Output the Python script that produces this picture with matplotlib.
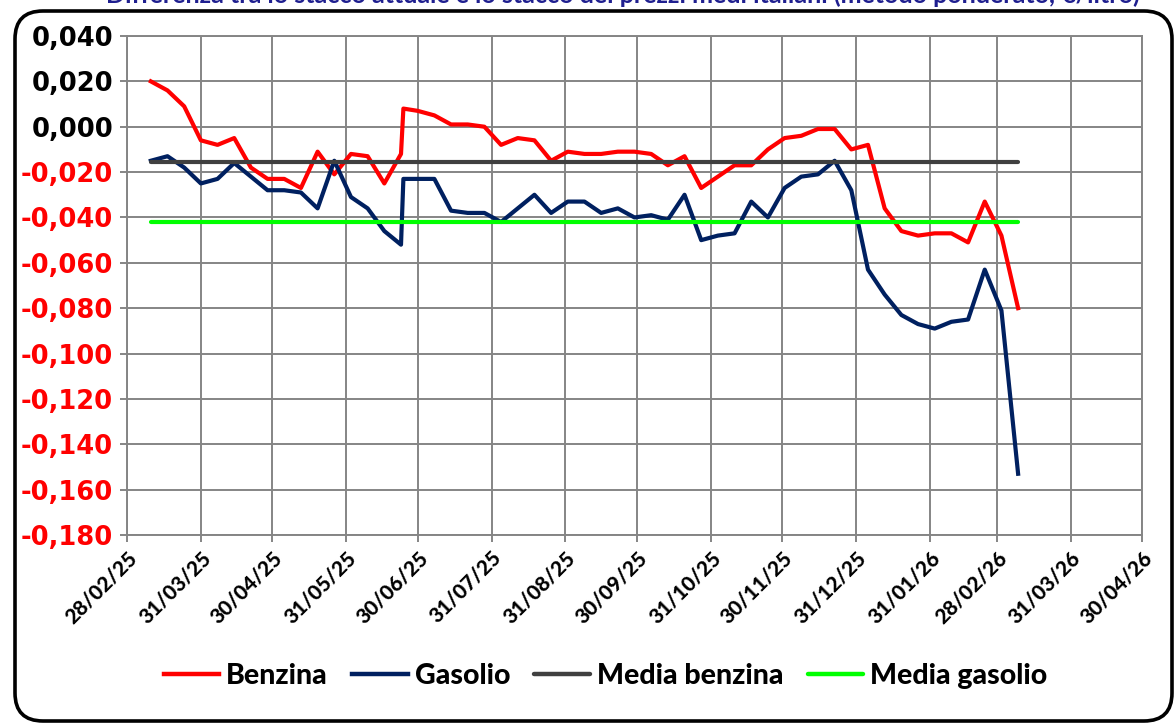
import pandas as pd
import numpy as np
import matplotlib
matplotlib.use('Agg')
import matplotlib.pyplot as plt
import matplotlib.dates as mdates
from matplotlib.patches import FancyBboxPatch

# weekly dates (Mondays) plus the extra reading on 24/06/25
dates = list(pd.date_range('2025-03-10', '2026-03-09', freq='7D'))
dates.insert(16, pd.Timestamp('2025-06-24'))

benzina = [0.020, 0.016, 0.009, -0.006, -0.008, -0.005, -0.018, -0.023, -0.023, -0.027,
           -0.011, -0.021, -0.012, -0.013, -0.025, -0.012, 0.008, 0.007, 0.005, 0.001,
           0.001, 0.000, -0.008, -0.005, -0.006, -0.015, -0.011, -0.012, -0.012, -0.011,
           -0.011, -0.012, -0.017, -0.013, -0.027, -0.022, -0.017, -0.017, -0.010, -0.005,
           -0.004, -0.001, -0.001, -0.010, -0.008, -0.036, -0.046, -0.048, -0.047, -0.047,
           -0.051, -0.033, -0.048, -0.080]
gasolio = [-0.015, -0.013, -0.018, -0.025, -0.023, -0.016, -0.022, -0.028, -0.028, -0.029,
           -0.036, -0.015, -0.031, -0.036, -0.046, -0.052, -0.023, -0.023, -0.023, -0.037,
           -0.038, -0.038, -0.042, -0.036, -0.030, -0.038, -0.033, -0.033, -0.038, -0.036,
           -0.040, -0.039, -0.041, -0.030, -0.050, -0.048, -0.047, -0.033, -0.040, -0.027,
           -0.022, -0.021, -0.015, -0.028, -0.063, -0.074, -0.083, -0.087, -0.089, -0.086,
           -0.085, -0.063, -0.081, -0.153]
media_benzina = -0.0155
media_gasolio = -0.042

y_ticks = [0.040, 0.020, 0.000, -0.020, -0.040, -0.060, -0.080, -0.100,
           -0.120, -0.140, -0.160, -0.180]
x_ticks = pd.date_range('2025-02-28', '2026-04-30', freq='ME')

title = "Differenza tra lo stacco attuale e lo stacco dei prezzi medi italiani (metodo ponderato, €/litro)"

grid_col = '#858585'

fig = plt.figure(figsize=(11.76, 7.25), dpi=100)
ax = fig.add_axes([127 / 1176, 1 - 535 / 725, (1142 - 127) / 1176, (535 - 36) / 725])

ax.plot(dates, benzina, color='#FF0000', lw=3, label='Benzina', solid_joinstyle='round')
ax.plot(dates, gasolio, color='#002060', lw=3, label='Gasolio', solid_joinstyle='round')
ax.plot([dates[0], dates[-1]], [media_benzina] * 2, color='#404040', lw=3,
        label='Media benzina', solid_capstyle='round')
ax.plot([dates[0], dates[-1]], [media_gasolio] * 2, color='#00FF00', lw=3,
        label='Media gasolio', solid_capstyle='round')

ax.set_xlim(pd.Timestamp('2025-02-28'), pd.Timestamp('2026-04-30'))
ax.set_ylim(-0.180, 0.040)
ax.set_xticks(x_ticks)
ax.xaxis.set_major_formatter(mdates.DateFormatter('%d/%m/%y'))
ax.set_yticks(y_ticks)
ax.set_yticklabels([f"{v:.3f}".replace('.', ',') for v in y_ticks],
                   fontfamily='DejaVu Sans', fontweight='bold', fontsize=18.5)
for lab, v in zip(ax.get_yticklabels(), y_ticks):
    lab.set_color('#FF0000' if v < -0.0001 else 'black')

for lab in ax.get_xticklabels():
    lab.set_rotation(45)
    lab.set_ha('right')
    lab.set_va('top')
    lab.set_rotation_mode('anchor')
    lab.set_fontfamily('Lato')
    lab.set_fontweight('black')
    lab.set_fontsize(15)

ax.grid(True, color=grid_col, lw=1.4)
ax.set_axisbelow(True)
for sp in ax.spines.values():
    sp.set_color(grid_col)
    sp.set_linewidth(1.4)
ax.tick_params(axis='both', color=grid_col, width=1.4, length=5)
ax.tick_params(axis='y', pad=5)
ax.tick_params(axis='x', pad=4)

leg = fig.legend(loc='center', bbox_to_anchor=(0.515, 0.068), ncol=4, frameon=False,
                 prop={'family': 'Lato', 'weight': 'black', 'size': 20.5},
                 handlelength=1.95, handletextpad=0.25, columnspacing=0.85)
for line in leg.get_lines():
    line.set_linewidth(3.2)

# outer rounded frame
frame = FancyBboxPatch((0.15, 0.04), 11.57, 7.10,
                       boxstyle='round,pad=0,rounding_size=0.28',
                       transform=fig.dpi_scale_trans, fill=False,
                       edgecolor='black', lw=2.6, zorder=10)
fig.patches.append(frame)

# title, cut off by the top edge
fig.text(0.53, 1 - 3 / 725, title, ha='center', va='baseline', color='#1F1F8F',
         fontfamily='Lato', fontweight='bold', fontsize=18)

fig.savefig('out.png', dpi=100)
